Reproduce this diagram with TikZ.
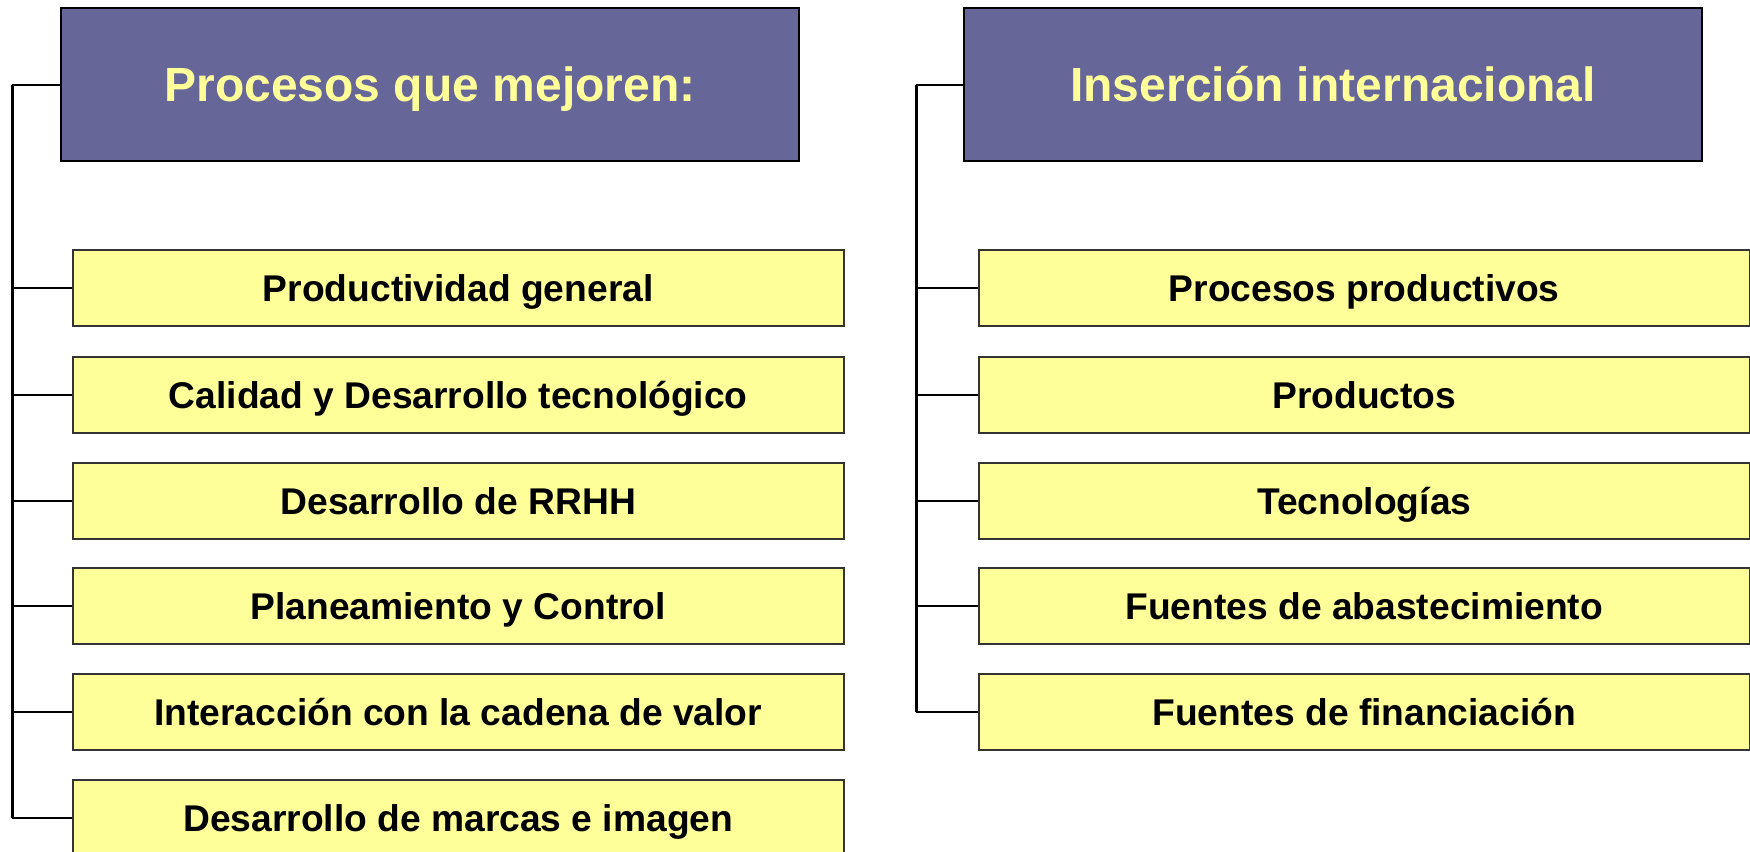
\documentclass[tikz,border=0pt]{standalone}
\usepackage{fontspec}
\setmainfont{Liberation Sans}
\definecolor{hdrfill}{HTML}{666699}
\definecolor{hdrtext}{HTML}{FFFF99}
\definecolor{boxfill}{HTML}{FFFF99}
\definecolor{boxline}{HTML}{333333}
\begin{document}
\begin{tikzpicture}[x=1pt,y=-1pt,
  header/.style={draw=black,line width=2pt,fill=hdrfill,text=hdrtext,anchor=north west,inner sep=0pt,
    minimum height=153pt,font=\fontsize{48}{52}\selectfont\bfseries,text height=34.4pt,text depth=0pt},
  itembox/.style={draw=boxline,line width=1.5pt,fill=boxfill,text=black,anchor=north west,inner sep=0pt,
    minimum width=771pt,minimum height=76pt,font=\fontsize{37.2}{40}\selectfont\bfseries,
    text height=26.6pt,text depth=0pt},
  spine/.style={line width=3pt,black},
  twig/.style={line width=2pt,black}]
\useasboundingbox (0,0) rectangle (1750,851);
\clip (0,0) rectangle (1750,851);
% left column
\node[header,minimum width=738pt] (hL) at (60,7) {Procesos que mejoren:};
\coordinate (sL) at (12,83);
\node[itembox] (l1) at (72,249) {Productividad general};
\node[itembox] (l2) at (72,356) {Calidad y Desarrollo tecnológico};
\node[itembox] (l3) at (72,462) {Desarrollo de RRHH};
\node[itembox] (l4) at (72,567) {Planeamiento y Control};
\node[itembox] (l5) at (72,673) {Interacción con la cadena de valor};
\node[itembox] (l6) at (72,779) {Desarrollo de marcas e imagen};
% right column
\node[header,minimum width=738pt] (hR) at (963,7) {Inserción internacional};
\coordinate (sR) at (916,83);
\node[itembox] (r1) at (978,249) {Procesos productivos};
\node[itembox] (r2) at (978,356) {Productos};
\node[itembox] (r3) at (978,462) {Tecnologías};
\node[itembox] (r4) at (978,567) {Fuentes de abastecimiento};
\node[itembox] (r5) at (978,673) {Fuentes de financiación};
% connectors left
\draw[twig] (hL.west) -- (hL.west -| sL);
\draw[spine] (hL.west -| sL) -- (l6.west -| sL);
\foreach \n in {l1,l2,l3,l4,l5,l6} \draw[twig] (\n.west -| sL) -- (\n.west);
% connectors right
\draw[twig] (hR.west) -- (hR.west -| sR);
\draw[spine] (hR.west -| sR) -- (r5.west -| sR);
\foreach \n in {r1,r2,r3,r4,r5} \draw[twig] (\n.west -| sR) -- (\n.west);
\end{tikzpicture}
\end{document}
